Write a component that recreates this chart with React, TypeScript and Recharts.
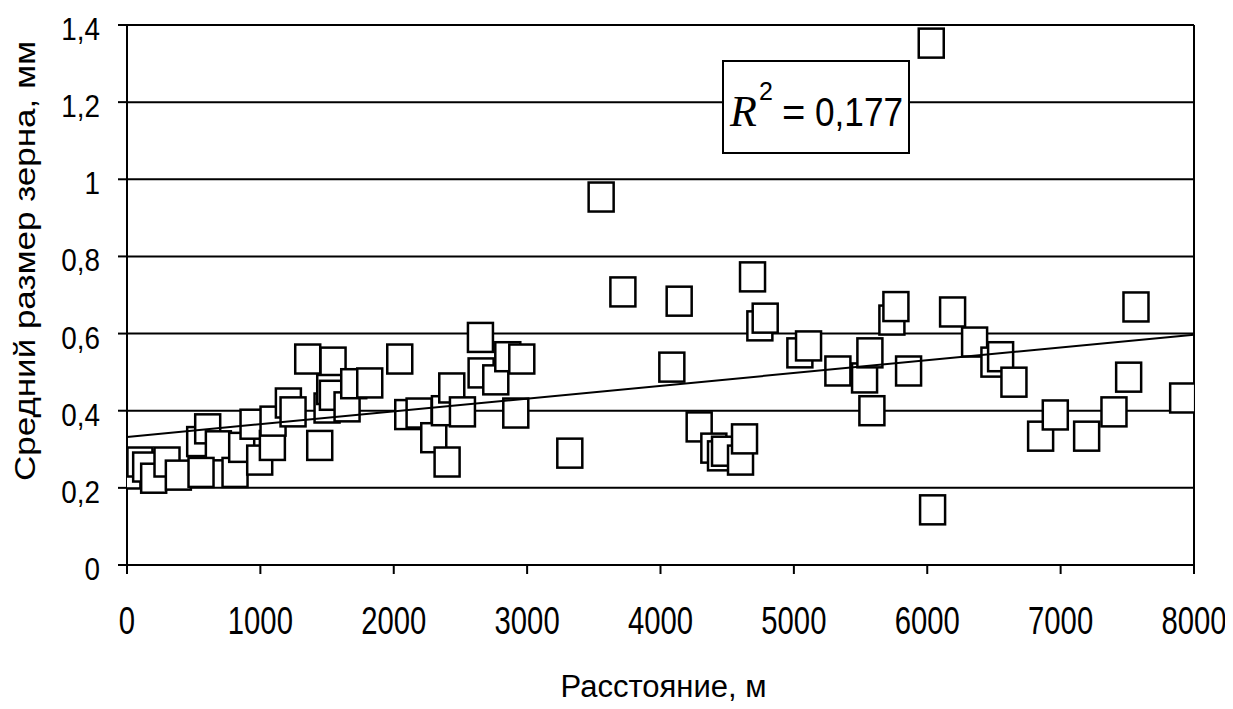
import React from 'react';
import {
  ScatterChart,
  Scatter,
  XAxis,
  YAxis,
  CartesianGrid,
  ReferenceLine,
  Label,
} from 'recharts';

// Distance, m
const distance: number[] = [
  7, 97, 140, 200, 300, 385, 545, 605, 685, 555, 810, 860, 945, 995, 1090, 1095, 1210, 1245,
  1355, 1545, 1445, 1500, 1520, 1540, 1650, 1700, 1820, 2045, 2105, 2190, 2300, 2380, 2400,
  2435, 2515, 2650, 2655, 2765, 2855, 2960, 2915, 3320, 3555, 3718, 4140, 4085, 4290, 4400,
  4450, 4480, 4600, 4630, 4690, 4745, 4785, 5045, 5110, 5330, 5530, 5570, 5585, 5735, 5765,
  5860, 6030, 6040, 6190, 6355, 6500, 6550, 6650, 6850, 6960, 7195, 7400, 7510, 7565, 7915,
];

// Mean grain size, mm
const grainSize: number[] = [
  0.236, 0.267, 0.254, 0.225, 0.267, 0.233, 0.32, 0.353, 0.309, 0.24, 0.24, 0.305, 0.365, 0.272,
  0.31, 0.373, 0.42, 0.397,
  0.534, 0.526, 0.31, 0.407, 0.455, 0.44, 0.41, 0.47, 0.472, 0.534, 0.39, 0.394, 0.33, 0.4,
  0.267, 0.459, 0.397, 0.59, 0.498, 0.48, 0.54, 0.534, 0.394, 0.29, 0.954, 0.708, 0.684, 0.513,
  0.358, 0.303, 0.283, 0.295, 0.272, 0.327, 0.747, 0.62, 0.64, 0.55, 0.568, 0.503, 0.485, 0.55,
  0.4, 0.635, 0.67, 0.503, 1.353, 0.143, 0.656, 0.578, 0.526, 0.54, 0.474, 0.334, 0.389, 0.334,
  0.397, 0.487, 0.669, 0.433,
];

// Linear trend line end points
const trendX: number[] = [0, 8000];
const trendY: number[] = [0.332, 0.597];

const xTicks: number[] = [0, 1000, 2000, 3000, 4000, 5000, 6000, 7000, 8000];
const yTicks: number[] = [0, 0.2, 0.4, 0.6, 0.8, 1, 1.2, 1.4];

const xTitle = 'Расстояние, м';
const yTitle = 'Средний размер зерна, мм';
const r2Value = '0,177';

const points = distance.map((x, i) => ({ x, y: grainSize[i] }));
const trend = trendX.map((x, i) => ({ x, y: trendY[i] }));

const FONT = '"Liberation Sans", Arial, sans-serif';

const fmtY = (v: number) => String(Math.round(v * 10) / 10).replace('.', ',');

const SquareShape = (props: any) => {
  const { cx, cy } = props;
  if (cx == null || cy == null) return <g />;
  return (
    <rect
      x={cx - 12.5}
      y={cy - 14.5}
      width={25}
      height={29}
      fill="#ffffff"
      stroke="#000000"
      strokeWidth={2.5}
    />
  );
};

const NoShape = () => <g />;

const XTick = (props: any) => {
  const { x, y, payload } = props;
  return (
    <g transform={`translate(${x},${y})`}>
      <text
        transform="scale(0.77,1)"
        textAnchor="middle"
        dy="0.71em"
        fontSize={38}
        fontFamily={FONT}
        fill="#000"
      >
        {payload.value}
      </text>
    </g>
  );
};

const YTick = (props: any) => {
  const { x, y, payload } = props;
  return (
    <g transform={`translate(${x},${y})`}>
      <text
        transform="scale(0.87,1)"
        textAnchor="end"
        dy={15}
        fontSize={32}
        fontFamily={FONT}
        fill="#000"
      >
        {fmtY(payload.value)}
      </text>
    </g>
  );
};

const XTitle = (props: any) => {
  const { viewBox } = props;
  const cx = viewBox.x + viewBox.width / 2 + 3;
  return (
    <text x={cx} y={viewBox.y + 132} textAnchor="middle" fontSize={31} fontFamily={FONT} fill="#000">
      {xTitle}
    </text>
  );
};

const YTitle = (props: any) => {
  const { viewBox } = props;
  const x = 27;
  const y = viewBox.y + 236;
  return (
    <text
      x={x}
      y={y}
      transform={`rotate(-90, ${x}, ${y})`}
      textAnchor="middle"
      fontSize={30}
      fontFamily={FONT}
      textLength={440}
      lengthAdjust="spacingAndGlyphs"
      fill="#000"
    >
      {yTitle}
    </text>
  );
};

export default function App() {
  const W = 1225;
  const H = 701;
  return (
    <div style={{ position: 'relative', width: W, height: H, background: '#fff' }}>
      <ScatterChart
        width={W}
        height={H}
        margin={{ top: 17, right: 39, bottom: 0, left: 0 }}
      >
        <CartesianGrid
          horizontal={true}
          vertical={false}
          stroke="#000"
          strokeWidth={2}
        />
        <XAxis
          type="number"
          dataKey="x"
          domain={[0, 8000]}
          ticks={xTicks}
          interval={0}
          height={144}
          tickSize={9}
          tickMargin={33}
          axisLine={{ stroke: '#000', strokeWidth: 2 }}
          tickLine={{ stroke: '#000', strokeWidth: 2 }}
          tick={<XTick />}
          allowDataOverflow
        >
          <Label content={<XTitle />} />
        </XAxis>
        <YAxis
          type="number"
          dataKey="y"
          domain={[0, 1.4]}
          ticks={yTicks}
          interval={0}
          width={119}
          tickSize={9}
          tickMargin={18}
          axisLine={{ stroke: '#000', strokeWidth: 2 }}
          tickLine={{ stroke: '#000', strokeWidth: 2 }}
          tick={<YTick />}
          allowDataOverflow
        >
          <Label content={<YTitle />} />
        </YAxis>
        <ReferenceLine x={8000} stroke="#000" strokeWidth={2} />
        <Scatter
          data={points}
          shape={<SquareShape />}
          isAnimationActive={false}
        />
        <Scatter
          data={trend}
          line={{ stroke: '#000', strokeWidth: 2 }}
          lineType="joint"
          shape={<NoShape />}
          isAnimationActive={false}
        />
      </ScatterChart>
      <svg
        width={W}
        height={H}
        style={{ position: 'absolute', left: 0, top: 0, pointerEvents: 'none' }}
      >
        <rect x={715} y={53} width={186} height={92} fill="#fff" stroke="#000" strokeWidth={2} />
        <text x={722} y={118} fontFamily='"Liberation Serif", "Times New Roman", serif' fontStyle="italic" fontSize={44} fill="#000">
          R
        </text>
        <text x={751} y={92} fontFamily={FONT} fontSize={25} fill="#000">
          2
        </text>
        <text x={774} y={118} fontFamily={FONT} fontSize={40} fill="#000">
          =
        </text>
        <text x={807} y={118} fontFamily={FONT} fontSize={40} textLength={88} lengthAdjust="spacingAndGlyphs" fill="#000">
          {r2Value}
        </text>
      </svg>
    </div>
  );
}
